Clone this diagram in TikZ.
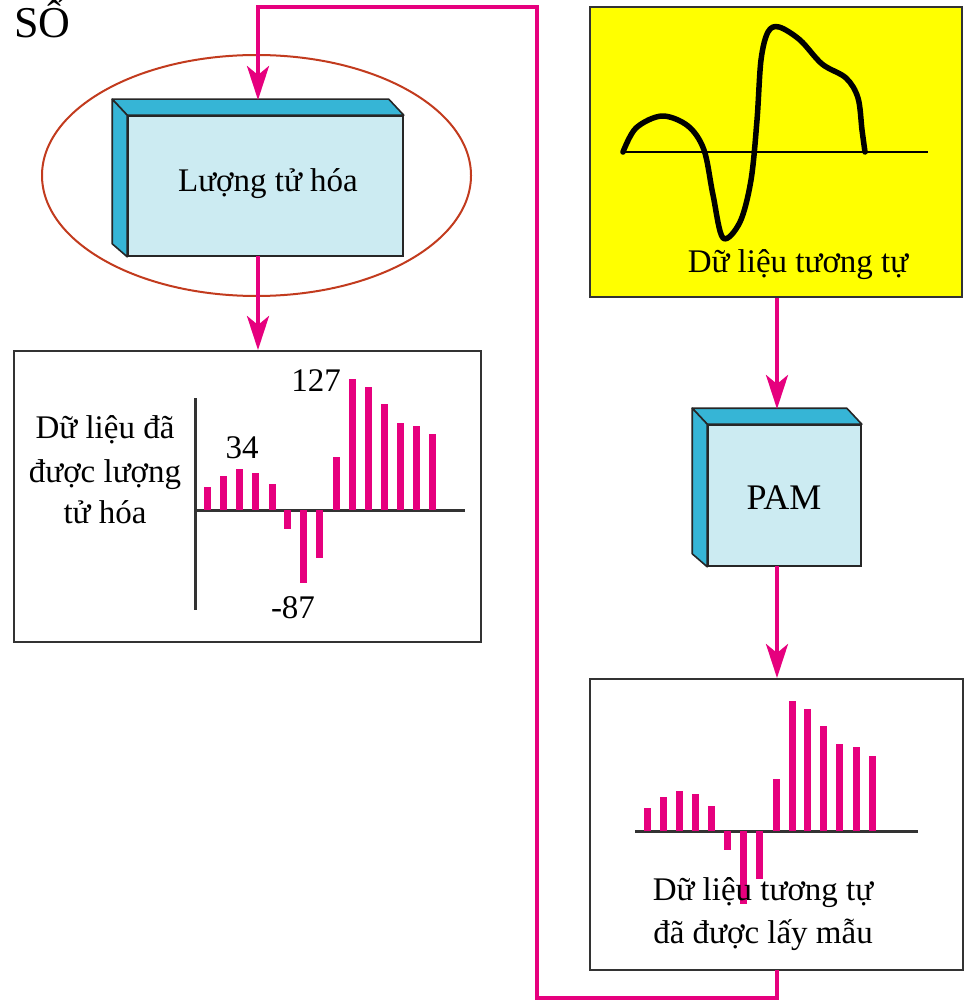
\documentclass[tikz,border=0pt]{standalone}
\usepackage{fontspec}
\setmainfont{Liberation Serif}
\usetikzlibrary{arrows.meta,calc,shapes.geometric}
\definecolor{pinkc}{HTML}{E6007E}
\definecolor{facec}{HTML}{CCEBF2}
\definecolor{sidec}{HTML}{36B5D6}
\definecolor{ellc}{HTML}{C23B1E}
\definecolor{axc}{HTML}{333333}
\definecolor{yel}{HTML}{FFFF00}
\begin{document}
\begin{tikzpicture}[x=1pt,y=-1pt,
  flow/.style={draw=pinkc,line width=4pt,-{Stealth[length=34pt,width=22pt,inset=9pt]}},
  front/.style={draw=black!85,line width=1.6pt,fill=facec,rectangle,inner sep=0pt},
  side/.style={draw=black!85,line width=1.6pt,fill=sidec,line join=round},
  panel/.style={draw=black!80,line width=2pt,rectangle,inner sep=0pt},
  lbl/.style={font=\fontsize{33}{40}\selectfont,inner sep=0pt,anchor=base},
  bar/.style={draw=pinkc,line width=7pt},
  axis/.style={draw=axc,line width=3pt}]
\useasboundingbox (0,0) rectangle (970,1008);

% title fragment
\node[font=\fontsize{44}{48}\selectfont,inner sep=0pt,anchor=base west] (so) at (14,38) {SỐ};

% ---- quantization box with ellipse ----
\node[draw=ellc,line width=2pt,ellipse,minimum width=429pt,minimum height=241pt,inner sep=0pt] (ell) at (256.5,175.5) {};
\node[front,minimum width=275pt,minimum height=140pt] (q) at (265.5,186) {};
\draw[side] (q.north west) -- ++(-15,-16) -- ($(q.north east)+(-15,-16)$) -- (q.north east) -- cycle;
\draw[side] (q.north west) -- ++(-15,-16) -- ($(q.south west)+(-15,-13)$) -- (q.south west) -- cycle;
\node[lbl] (qt) at (268,192) {Lượng tử hóa};
\coordinate (qtop) at (258,100);
\coordinate (qbot) at (258,256);

% ---- quantized data panel ----
\node[panel,minimum width=467pt,minimum height=291pt] (qd) at (247.5,496.5) {};
\node[lbl] (qd1) at (105,438) {Dữ liệu đã};
\node[lbl] (qd2) at (105,482) {được lượng};
\node[lbl] (qd3) at (105,523) {tử hóa};
\draw[axis] (195,398) -- (195,610);
\draw[axis] (195,510) -- (465,510);
\foreach \x/\y in {207/487,223/476,239/469,255/473,272/484,287/529,303/583,319/558,336/457,352/379,368/387,384/404,400/423,416/426,432/434}
  \draw[bar] (\x,510) -- (\x,\y);
\node[lbl] (n34) at (242,458) {34};
\node[lbl] (n127) at (316,391) {127};
\node[lbl] (n87) at (293,618) {-87};

% ---- analog data panel ----
\node[panel,fill=yel,minimum width=372pt,minimum height=290pt] (an) at (776,152) {};
\draw[black,line width=2pt] (623,152) -- (928,152);
\draw[black,line width=5.5pt,line cap=round,line join=round] plot[smooth,tension=0.55] coordinates
  {(623,152) (636,128) (662,116) (688,126) (704,150) (713,195) (723,238) (740,222) (751,180) (757,120) (761,60) (768,32) (779,27) (800,40) (822,64) (846,78) (858,98) (862,130) (865,152)};
\node[lbl] (ant) at (798,272) {Dữ liệu tương tự};

% ---- PAM box ----
\node[front,minimum width=153pt,minimum height=141pt] (p) at (784.5,495.5) {};
\draw[side] (p.north west) -- ++(-15,-16) -- ($(p.north east)+(-15,-16)$) -- (p.north east) -- cycle;
\draw[side] (p.north west) -- ++(-15,-16) -- ($(p.south west)+(-15,-13)$) -- (p.south west) -- cycle;
\node[font=\fontsize{36}{40}\selectfont,inner sep=0pt,anchor=base] (pt) at (784,509) {PAM};
\coordinate (ptop) at (777,409);
\coordinate (pbot) at (777,566);

% ---- sampled data panel ----
\node[panel,minimum width=373pt,minimum height=291pt] (sp) at (776.5,824.5) {};
\draw[axis] (635,831) -- (918,831);
\foreach \x/\y in {647/808,663/797,679/791,695/794,711/806,727/850,743/904,759/879,776/779,792/701,807/709,823/726,839/744,856/747,872/756}
  \draw[bar] (\x,831) -- (\x,\y);
\node[lbl] (sp1) at (763,900) {Dữ liệu tương tự};
\node[lbl] (sp2) at (763,943) {đã được lấy mẫu};
\coordinate (spbot) at (777,970);

% ---- connectors ----
\coordinate (b1) at (777,998);
\coordinate (b2) at (537,998);
\coordinate (t2) at (537,7);
\coordinate (t1) at (258,7);
\draw[flow] (spbot) -- (b1) -- (b2) -- (t2) -- (t1) -- (qtop);
\draw[flow] (qbot) -- (qd.north -| qbot);
\draw[flow] (an.south -| ptop) -- (ptop);
\draw[flow] (pbot) -- (sp.north -| pbot);
\end{tikzpicture}
\end{document}
